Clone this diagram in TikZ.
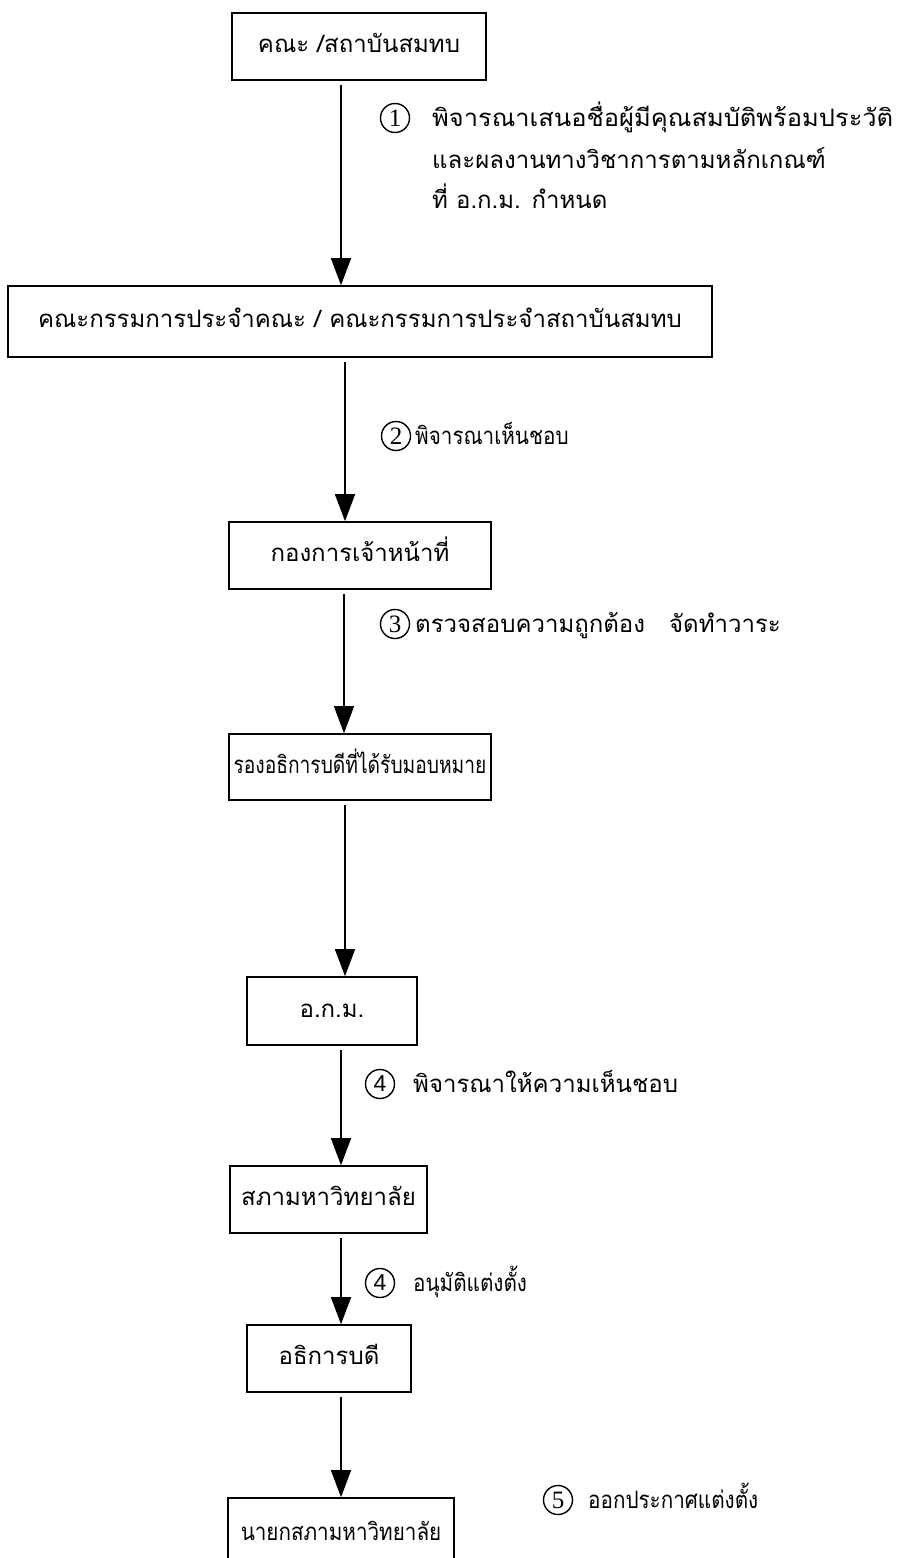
\documentclass[tikz,border=0pt]{standalone}
\usepackage{fontspec}
\setmainfont{Liberation Serif}
\newfontfamily\thaifont[Script=Thai]{Loma}
\newfontfamily\thaicondA[Script=Thai,FakeStretch=0.80]{Loma}
\newfontfamily\thaicondB[Script=Thai,FakeStretch=0.86]{Loma}
\newfontfamily\thaiwide[Script=Thai,FakeStretch=1.06]{Loma}
\newfontfamily\numsans{Liberation Sans}
\usetikzlibrary{arrows.meta}
\begin{document}
\begin{tikzpicture}[x=1pt,y=-1pt,
 box/.style={draw,line width=1.6pt,inner sep=0pt,text height=15pt,text depth=3pt,font=\thaifont\fontsize{24}{28}\selectfont},
 arr/.style={line width=1.4pt,-{Triangle[width=20pt,length=27pt]},shorten <=4pt},
 num/.style={draw,circle,line width=1.4pt,minimum size=29pt,inner sep=0pt,font=\fontsize{25}{25}\selectfont},
 numsf/.style={num,font=\numsans\fontsize{23}{23}\selectfont},
 lbl/.style={anchor=base west,inner sep=0pt,font=\thaifont\fontsize{24}{28}\selectfont}]
\useasboundingbox (0,0) rectangle (912,1558);
% boxes
\node[box,minimum width=254pt,minimum height=67pt] (b1) at (359,46.5) {คณะ /สถาบันสมทบ};
\node[box,minimum width=704pt,minimum height=71pt] (b2) at (360,321.5) {คณะกรรมการประจำคณะ / คณะกรรมการประจำสถาบันสมทบ};
\node[box,minimum width=262pt,minimum height=67pt] (b3) at (360,555.5) {กองการเจ้าหน้าที่};
\node[box,minimum width=262pt,minimum height=66pt,font=\thaicondA\fontsize{24}{28}\selectfont] (b4) at (360,767) {รองอธิการบดีที่ได้รับมอบหมาย};
\node[box,minimum width=170pt,minimum height=68pt] (b5) at (332,1011) {อ.ก.ม.};
\node[box,minimum width=197pt,minimum height=67pt] (b6) at (328.5,1199.5) {สภามหาวิทยาลัย};
\node[box,minimum width=164pt,minimum height=67pt] (b7) at (329,1358.5) {อธิการบดี};
\node[box,minimum width=226pt,minimum height=72pt,font=\thaicondB\fontsize{24}{28}\selectfont] (b8) at (341,1534) {นายกสภามหาวิทยาลัย};
% arrow columns
\coordinate (c1) at (341,0);
\coordinate (c2) at (345,0);
\coordinate (c3) at (344,0);
\coordinate (c4) at (345,0);
\coordinate (c5) at (341,0);
\coordinate (c6) at (341,0);
\coordinate (c7) at (341,0);
\draw[arr] (c1 |- b1.south) -- (c1 |- b2.north);
\draw[arr] (c2 |- b2.south) -- (c2 |- b3.north);
\draw[arr] (c3 |- b3.south) -- (c3 |- b4.north);
\draw[arr] (c4 |- b4.south) -- (c4 |- b5.north);
\draw[arr] (c5 |- b5.south) -- (c5 |- b6.north);
\draw[arr] (c6 |- b6.south) -- (c6 |- b7.north);
\draw[arr] (c7 |- b7.south) -- (c7 |- b8.north);
% step labels
\node[num] (n1) at (395,118) {1};
\node[lbl,font=\thaiwide\fontsize{24}{28}\selectfont] (t1a) at (432,126) {พิจารณาเสนอชื่อผู้มีคุณสมบัติพร้อมประวัติ};
\node[lbl] (t1b) at (432,168) {และผลงานทางวิชาการตามหลักเกณฑ์};
\node[lbl] (t1c) at (432,208) {ที่ อ.ก.ม. กำหนด};
\node[num] (n2) at (396,436) {2};
\node[lbl,font=\thaicondB\fontsize{24}{28}\selectfont] (t2) at (415,444) {พิจารณาเห็นชอบ};
\node[num] (n3) at (395,624) {3};
\node[lbl] (t3) at (415,632) {ตรวจสอบความถูกต้อง\quad จัดทำวาระ};
\node[numsf] (n4) at (380,1084) {4};
\node[lbl] (t4) at (413,1092) {พิจารณาให้ความเห็นชอบ};
\node[numsf] (n4b) at (380,1283) {4};
\node[lbl,font=\thaicondB\fontsize{24}{28}\selectfont] (t4b) at (413,1291) {อนุมัติแต่งตั้ง};
\node[num] (n5) at (558,1500) {5};
\node[lbl,font=\thaicondB\fontsize{24}{28}\selectfont] (t5) at (588,1508) {ออกประกาศแต่งตั้ง};
\end{tikzpicture}
\end{document}
